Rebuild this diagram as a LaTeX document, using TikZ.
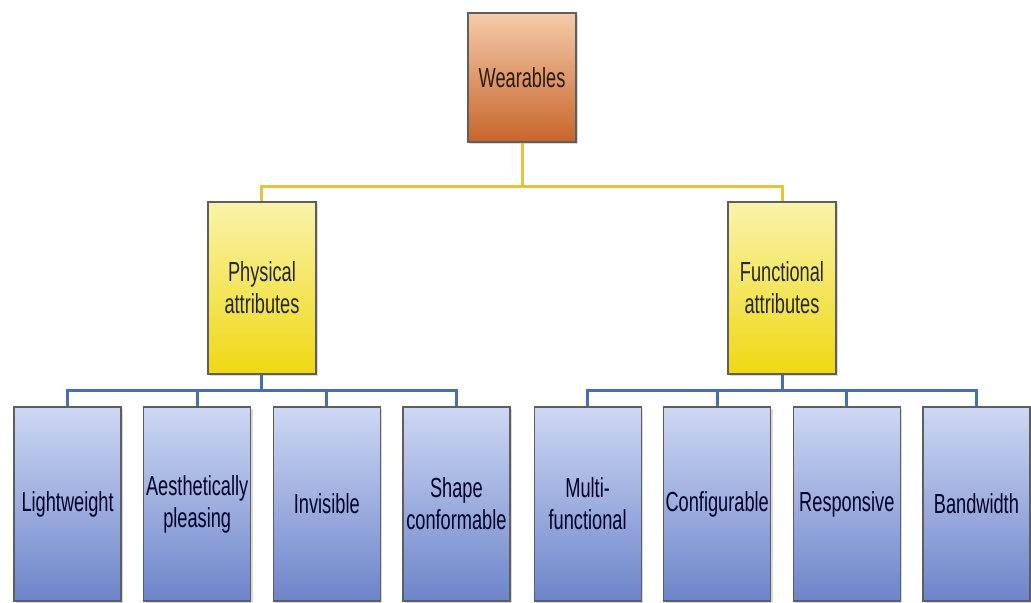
\documentclass[tikz,border=0pt]{standalone}
\usepackage{fontspec}
\newfontfamily\boxfont{Liberation Sans}[FakeStretch=0.66]
\usetikzlibrary{shadows}

\definecolor{rootlight}{HTML}{F4CBAA}
\definecolor{rootdark}{HTML}{C8652A}
\definecolor{attrlight}{HTML}{FAF3AC}
\definecolor{attrdark}{HTML}{EFD812}
\definecolor{leaflight}{HTML}{CED8F3}
\definecolor{leafdark}{HTML}{6C84CA}
\definecolor{goldline}{HTML}{E9C23C}
\definecolor{blueline}{HTML}{4A6DB4}
\definecolor{boxedge}{HTML}{5E5E5E}

\tikzset{
  box/.style={draw=boxedge, line width=0.6pt, inner sep=0pt, align=center,
    font=\boxfont\fontsize{13.8}{16}\selectfont,
    drop shadow={shadow xshift=1pt, shadow yshift=-1pt, opacity=0.3}},
  rootbox/.style={box, top color=rootlight, bottom color=rootdark, text=black!80!brown,
    minimum width=54pt, minimum height=64.5pt},
  attrbox/.style={box, top color=attrlight, bottom color=attrdark, text=black!85,
    minimum width=54pt, minimum height=86pt},
  leafbox/.style={box, top color=leaflight, bottom color=leafdark, text=blue!15!black,
    minimum width=53.5pt, minimum height=97pt}
}

\begin{document}
\begin{tikzpicture}[level 1/.style={sibling distance=260pt,level distance=105.25pt,
      edge from parent/.style={draw=goldline,line width=1.5pt},
      edge from parent path={(\tikzparentnode.south) -- ++(0,-22pt) -| (\tikzchildnode.north)}},
    level 2/.style={sibling distance=64.8pt,level distance=108pt,
      edge from parent/.style={draw=blueline,line width=1.5pt},
      edge from parent path={(\tikzparentnode.south) -- ++(0,-8pt) -| (\tikzchildnode.north)}}]
	\useasboundingbox (-261pt,38.75pt) rectangle (254.5pt,-262.75pt);
	\node[rootbox] (wear) {Wearables}
	    child { node[attrbox] (phys) {Physical\\attributes}
	            child { node[leafbox] (light) {Lightweight}}
	            child { node[leafbox] (aesth) {Aesthetically\\pleasing}}
	            child { node[leafbox] (invis) {Invisible}}
	            child { node[leafbox] (shape) {Shape\\conformable}}}
	    child { node[attrbox] (func) {Functional\\attributes}
	            child { node[leafbox] (multi) {Multi-\\functional}}
	            child { node[leafbox] (config) {Configurable}}
	            child { node[leafbox] (resp) {Responsive}}
	            child { node[leafbox] (band) {Bandwidth}}}
	;
\end{tikzpicture}
\end{document}
